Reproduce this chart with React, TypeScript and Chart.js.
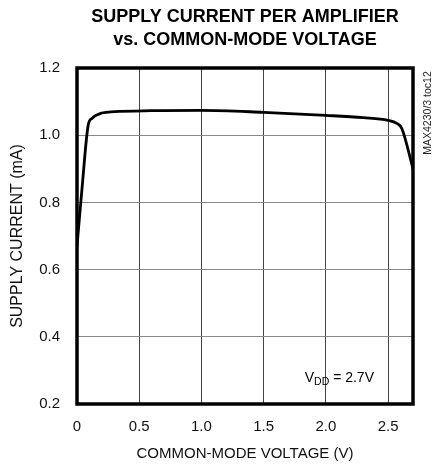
import React, { useEffect, useRef } from "react";
import { Chart, registerables } from "chart.js";

Chart.register(...registerables);

const TITLE_LINES = ["SUPPLY CURRENT PER AMPLIFIER", "vs. COMMON-MODE VOLTAGE"];
const X_TITLE = "COMMON-MODE VOLTAGE (V)";
const Y_TITLE = "SUPPLY CURRENT (mA)";
const X_TICKS = [0, 0.5, 1.0, 1.5, 2.0, 2.5];
const X_TICK_LABELS = ["0", "0.5", "1.0", "1.5", "2.0", "2.5"];
const Y_TICKS = [0.2, 0.4, 0.6, 0.8, 1.0, 1.2];
const Y_TICK_LABELS = ["0.2", "0.4", "0.6", "0.8", "1.0", "1.2"];
const VCM = [0, 0.04, 0.09, 0.12, 0.2, 0.3, 0.6, 1.0, 1.5, 2.0, 2.3, 2.5, 2.57, 2.61, 2.7];
const ICC = [0.67, 0.84, 1.03, 1.05, 1.066, 1.07, 1.073, 1.074, 1.068, 1.059, 1.052, 1.044, 1.035, 1.02, 0.9];
const NOTE_V = "V";
const NOTE_SUB = "DD";
const NOTE_REST = " = 2.7V";
const SIDE_NOTE = "MAX4230/3 toc12";

const FONT = '"Liberation Sans", Arial, sans-serif';

const framePlugin = {
  id: "frameAndNotes",
  afterDraw(chart: any) {
    const { ctx, chartArea } = chart;
    const { left, top, right, bottom } = chartArea;
    ctx.save();
    ctx.strokeStyle = "#000";
    ctx.lineWidth = 3.5;
    ctx.strokeRect(left, top, right - left, bottom - top);

    // V_DD annotation
    const xs = chart.scales.x;
    const ys = chart.scales.y;
    let x = xs.getPixelForValue(1.83);
    const y = ys.getPixelForValue(0.265);
    ctx.fillStyle = "#000";
    ctx.textBaseline = "alphabetic";
    ctx.textAlign = "left";
    ctx.font = `14px ${FONT}`;
    ctx.fillText(NOTE_V, x, y);
    x += ctx.measureText(NOTE_V).width;
    ctx.font = `10.5px ${FONT}`;
    ctx.fillText(NOTE_SUB, x, y + 3);
    x += ctx.measureText(NOTE_SUB).width;
    ctx.font = `14px ${FONT}`;
    ctx.fillText(NOTE_REST, x, y);

    // side note
    ctx.translate(right + 15, top + 45);
    ctx.rotate(-Math.PI / 2);
    ctx.font = `10.5px ${FONT}`;
    ctx.textAlign = "center";
    ctx.textBaseline = "middle";
    ctx.fillStyle = "#222";
    ctx.fillText(SIDE_NOTE, 0, 0);
    ctx.restore();
  },
};

export default function App() {
  const ref = useRef<HTMLCanvasElement | null>(null);

  useEffect(() => {
    if (!ref.current) return;
    const chart = new Chart(ref.current, {
      type: "line",
      data: {
        datasets: [
          {
            data: VCM.map((v, i) => ({ x: v, y: ICC[i] })),
            borderColor: "#000",
            borderWidth: 2.8,
            pointRadius: 0,
            cubicInterpolationMode: "monotone",
            fill: false,
          },
        ],
      },
      options: {
        animation: false,
        responsive: false,
        layout: { padding: { left: 0, right: 24, top: 0, bottom: 0 } },
        plugins: {
          legend: { display: false },
          tooltip: { enabled: false },
          title: {
            display: true,
            fullSize: false,
            text: TITLE_LINES,
            color: "#000",
            font: { family: FONT, size: 18, weight: "bold", lineHeight: 22.5 / 18 },
            padding: { top: 6, bottom: 17 },
          },
        },
        scales: {
          x: {
            type: "linear",
            min: 0,
            max: 2.7,
            afterBuildTicks: (s: any) => {
              s.ticks = X_TICKS.map((v) => ({ value: v }));
            },
            afterFit: (s: any) => {
              s.height = 66;
            },
            ticks: {
              callback: (_v: any, i: number) => X_TICK_LABELS[i],
              color: "#111",
              font: { family: FONT, size: 15 },
              padding: 14,
              maxRotation: 0,
            },
            grid: { color: "#444", lineWidth: 1, drawTicks: false },
            border: { display: false },
            title: {
              display: true,
              text: X_TITLE,
              color: "#111",
              font: { family: FONT, size: 15 },
              padding: { top: 0, bottom: 7 },
            },
          },
          y: {
            type: "linear",
            min: 0.2,
            max: 1.2,
            afterBuildTicks: (s: any) => {
              s.ticks = Y_TICKS.map((v) => ({ value: v }));
            },
            afterFit: (s: any) => {
              s.width = 77;
            },
            ticks: {
              callback: (_v: any, i: number) => Y_TICK_LABELS[i],
              color: "#111",
              font: { family: FONT, size: 15 },
              padding: 17,
            },
            grid: { color: "#888", lineWidth: 1, drawTicks: false },
            border: { display: false },
            title: {
              display: true,
              text: Y_TITLE,
              color: "#111",
              font: { family: FONT, size: 16 },
              padding: { top: 8, bottom: 0 },
            },
          },
        },
      },
      plugins: [framePlugin],
    } as any);
    return () => chart.destroy();
  }, []);

  return (
    <div style={{ position: "absolute", left: 0, top: 0, width: 437, height: 470, background: "#fff" }}>
      <canvas ref={ref} width={437} height={470} />
    </div>
  );
}
